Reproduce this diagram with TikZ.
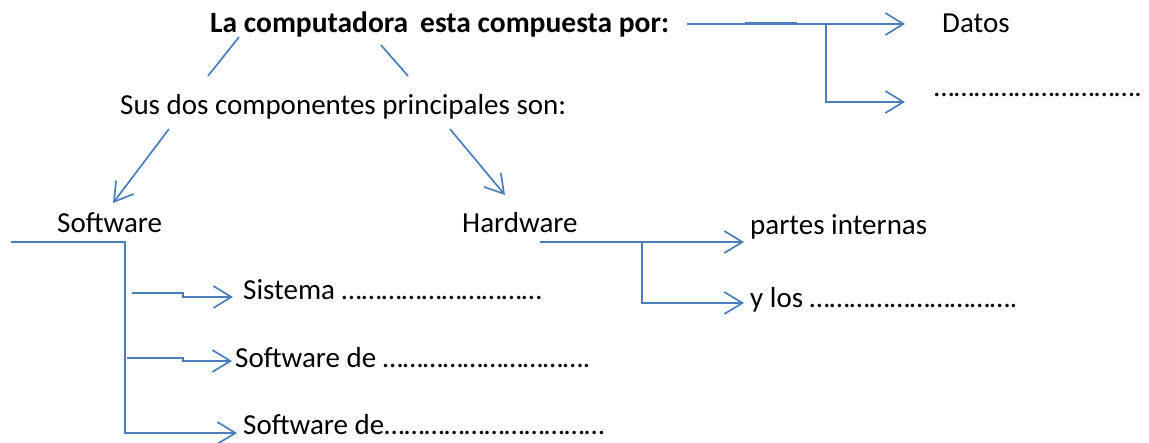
\documentclass[tikz,border=0pt]{standalone}
\usepackage{fontspec}
\setmainfont{Carlito}
\usetikzlibrary{arrows.meta}
\definecolor{lineblue}{RGB}{74,126,187}
\tikzset{
  txt/.style={anchor=base west, inner sep=0pt, font=\fontsize{29}{34}\selectfont, text=black},
  btxt/.style={txt, font=\fontsize{29.5}{35}\selectfont\bfseries},
  conn/.style={draw=lineblue, line width=1.7pt, line join=miter},
  arr/.style={conn, -{Straight Barb[length=18pt,width=22pt,line width=1.7pt]}}
}
\begin{document}
\begin{tikzpicture}[x=1pt,y=-1pt]
\useasboundingbox (0,0) rectangle (1149,443);
% texts
\node[btxt] (t1) at (210,33) {La computadora};
\node[btxt] (t2) at (420,33) {esta compuesta por:};
\node[txt] (datos) at (942,33) {Datos};
\node[txt] (dots1) at (934,97) {………………………….};
\node[txt] (sus) at (120,115) {Sus dos componentes principales son:};
\node[txt] (soft) at (57,233) {Software};
\node[txt] (hard) at (462,233) {Hardware};
\node[txt] (part) at (750,235) {partes internas};
\node[txt] (ylos) at (750,308) {y los ………………………….};
\node[txt] (sist) at (243,300) {Sistema …………………………};
\node[txt] (sw1) at (235,368) {Software de ………………………….};
\node[txt] (sw2) at (243,435) {Software de……………………………};
% coordinates
\coordinate (a1) at (239,37); \coordinate (a2) at (208,76);
\coordinate (b1) at (381,45); \coordinate (b2) at (408,76);
\coordinate (c1) at (169,129); \coordinate (c2) at (113,203);
\coordinate (d1) at (450,129); \coordinate (d2) at (505,195);
\coordinate (e0) at (687,24); \coordinate (e1) at (826,24); \coordinate (e2) at (905,24);
\coordinate (e3) at (826,102); \coordinate (e4) at (905,102);
\coordinate (f0) at (11,242); \coordinate (f1) at (125,242); \coordinate (f2) at (125,433); \coordinate (f3) at (237,433);
\coordinate (g0) at (132,293); \coordinate (g1) at (183,293); \coordinate (g2) at (183,297); \coordinate (g3) at (233,297);
\coordinate (h0) at (127,358); \coordinate (h1) at (183,358); \coordinate (h2) at (183,361); \coordinate (h3) at (232,361);
\coordinate (k0) at (540,242); \coordinate (k1) at (642,242); \coordinate (k2) at (744,242);
\coordinate (k3) at (642,303); \coordinate (k4) at (744,303);
% connectors
\draw[conn] (a1) -- (a2);
\draw[conn] (b1) -- (b2);
\draw[arr] (c1) -- (c2);
\draw[arr] (d1) -- (d2);
\draw[arr] (e0) -- (e2);
\draw[conn, line width=2.6pt] (745,23.5) -- (797,23.5);
\draw[arr] (e1) -- (e3) -- (e4);
\draw[arr] (f0) -- (f1) -- (f2) -- (f3);
\draw[arr] (g0) -- (g1) -- (g2) -- (g3);
\draw[arr] (h0) -- (h1) -- (h2) -- (h3);
\draw[arr] (k0) -- (k2);
\draw[arr] (k1) -- (k3) -- (k4);
\end{tikzpicture}
\end{document}
